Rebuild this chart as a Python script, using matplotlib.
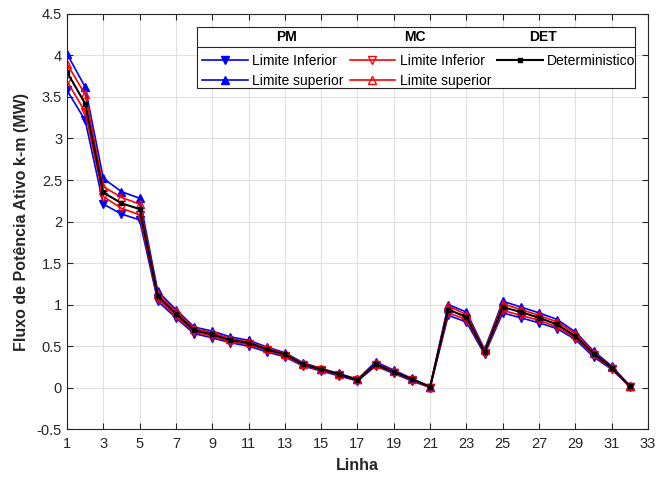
import matplotlib
matplotlib.use("Agg")
import matplotlib.pyplot as plt
from matplotlib.lines import Line2D
from matplotlib.patches import Rectangle

plt.rcParams['font.family'] = ['Liberation Sans', 'DejaVu Sans']

linhas = list(range(1, 33))
pm_inf = [3.58, 3.22, 2.21, 2.09, 2.02, 1.04, 0.84, 0.65, 0.60, 0.54, 0.50, 0.43, 0.37, 0.26, 0.20, 0.14,
          0.08, 0.26, 0.17, 0.08, 0.00, 0.87, 0.79, 0.40, 0.90, 0.84, 0.78, 0.71, 0.58, 0.37, 0.22, 0.01]
pm_sup = [4.02, 3.62, 2.52, 2.36, 2.28, 1.16, 0.94, 0.73, 0.68, 0.61, 0.57, 0.49, 0.42, 0.30, 0.23, 0.17,
          0.10, 0.31, 0.21, 0.11, 0.01, 1.00, 0.91, 0.46, 1.04, 0.97, 0.90, 0.82, 0.67, 0.44, 0.26, 0.02]
mc_inf = [3.69, 3.32, 2.30, 2.16, 2.08, 1.07, 0.86, 0.67, 0.62, 0.55, 0.52, 0.45, 0.38, 0.27, 0.21, 0.15,
          0.09, 0.27, 0.18, 0.09, 0.00, 0.90, 0.82, 0.42, 0.93, 0.87, 0.81, 0.73, 0.60, 0.39, 0.23, 0.01]
mc_sup = [3.90, 3.53, 2.42, 2.29, 2.21, 1.13, 0.92, 0.71, 0.66, 0.59, 0.55, 0.48, 0.41, 0.29, 0.23, 0.16,
          0.10, 0.29, 0.20, 0.10, 0.01, 0.98, 0.88, 0.45, 1.01, 0.94, 0.87, 0.79, 0.65, 0.42, 0.25, 0.02]
det = [3.80, 3.42, 2.35, 2.22, 2.15, 1.10, 0.89, 0.69, 0.64, 0.57, 0.54, 0.46, 0.40, 0.28, 0.22, 0.16,
       0.09, 0.28, 0.19, 0.10, 0.01, 0.94, 0.85, 0.43, 0.97, 0.91, 0.84, 0.76, 0.62, 0.41, 0.24, 0.02]

fig = plt.figure(figsize=(6.58, 4.8), dpi=100)
ax = fig.add_axes([0.1018, 0.106, 0.883, 0.865])

lw = 1.2
h1, = ax.plot(linhas, pm_inf, color='#0000ff', lw=lw, marker='v', ms=6, mfc='#0000ff', mec='#0000ff', label='Limite Inferior')
h2, = ax.plot(linhas, pm_sup, color='#0000ff', lw=lw, marker='^', ms=6, mfc='#0000ff', mec='#0000ff', label='Limite superior')
h3, = ax.plot(linhas, mc_inf, color='#ff0000', lw=lw, marker='v', ms=6, mfc='none', mec='#ff0000', label='Limite Inferior')
h4, = ax.plot(linhas, mc_sup, color='#ff0000', lw=lw, marker='^', ms=6, mfc='none', mec='#ff0000', label='Limite superior')
h5, = ax.plot(linhas, det, color='black', lw=lw + 0.3, marker='s', ms=2.5, mfc='black', mec='black', label='Deterministico')

ax.set_xlim(1, 33)
ax.set_ylim(-0.5, 4.5)
ax.set_xticks(range(1, 34, 2))
ax.set_yticks([-0.5, 0, 0.5, 1, 1.5, 2, 2.5, 3, 3.5, 4, 4.5])
ax.set_yticklabels(['-0.5', '0', '0.5', '1', '1.5', '2', '2.5', '3', '3.5', '4', '4.5'])
ax.grid(True, color='#e1e1e1', lw=0.8)
ax.set_axisbelow(True)
ax.tick_params(direction='in', top=True, right=True, labelsize=10.5, colors='#262626', length=4)
ax.tick_params(axis='x', pad=6)
for s in ax.spines.values():
    s.set_color('#262626')
    s.set_linewidth(0.8)
ax.set_xlabel('Linha', fontsize=11.5, fontweight='bold', color='#262626', labelpad=5)
ax.set_ylabel('Fluxo de Potência Ativo k-m (MW)', fontsize=11.5, fontweight='bold', color='#262626', labelpad=6)

blank = Line2D([], [], color='none')
leg = ax.legend([h1, h2, h3, h4, h5, blank],
                ['Limite Inferior', 'Limite superior', 'Limite Inferior', 'Limite superior', 'Deterministico', ''],
                ncol=3, frameon=False, fontsize=10, handlelength=3.3, handletextpad=0.3,
                columnspacing=0.45, labelspacing=0.4, borderaxespad=0, borderpad=0,
                loc='upper left', bbox_to_anchor=(0.232, 0.903))

# legend frame and headers
ax.add_patch(Rectangle((0.224, 0.822), 0.754, 0.147, transform=ax.transAxes, fill=True,
                       facecolor='white', edgecolor='#262626', lw=0.8, zorder=4))
ax.plot([0.224, 0.978], [0.921, 0.921], transform=ax.transAxes, color='#262626', lw=0.8, zorder=5)
leg.set_zorder(6)
for txt, xf in [('PM', 0.378), ('MC', 0.599), ('DET', 0.819)]:
    ax.text(xf, 0.944, txt, transform=ax.transAxes, ha='center', va='center',
            fontsize=10, fontweight='bold', zorder=6)

fig.savefig('out.png', dpi=100)
